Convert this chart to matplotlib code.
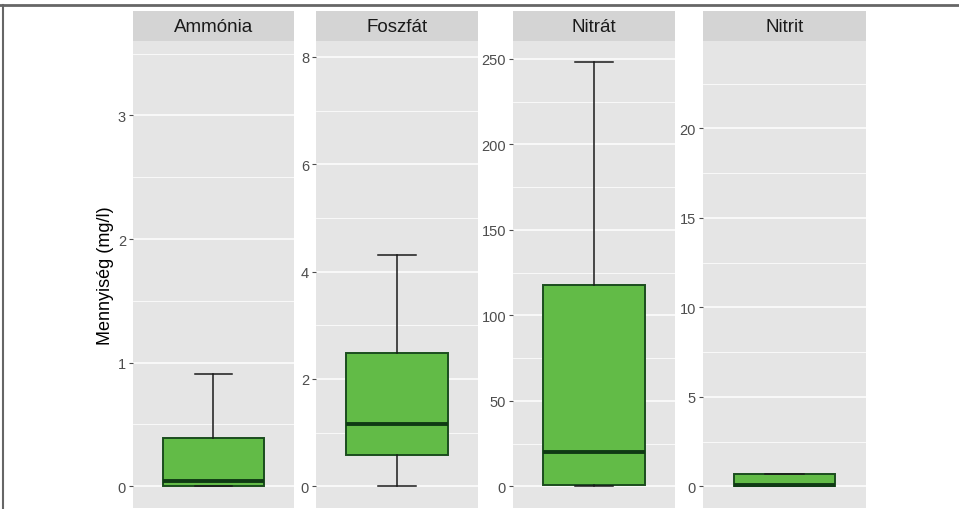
import matplotlib
matplotlib.use("Agg")
import matplotlib.pyplot as plt
from matplotlib.ticker import MultipleLocator
from matplotlib.lines import Line2D

plt.rcParams['font.family'] = ['Liberation Sans', 'DejaVu Sans']

# ---- data ----
categories = ["Ammónia", "Foszfát", "Nitrát", "Nitrit"]
whisker_low = [0.0, 0.0, 0.0, 0.0]
q1 = [0.0, 0.58, 0.8, 0.0]
median = [0.045, 1.16, 20.0, 0.05]
q3 = [0.39, 2.48, 118.0, 0.67]
whisker_high = [0.91, 4.31, 248.0, 0.67]
data_min = [0.0, 0.0, 0.0, 0.0]          # includes hidden outliers
data_max = [3.43, 7.9, 248.0, 23.7]      # includes hidden outliers
major_step = [1, 2, 50, 5]
ylabel = "Mennyiség (mg/l)"

W, H = 959, 510
fig = plt.figure(figsize=(W / 100, H / 100), dpi=100)

panel_x = [(133, 294), (316, 478), (513, 675), (703, 866)]
panel_top, panel_bot = 42, 508.5
strip_top = 12

panel_bg = "#E5E5E5"
strip_bg = "#D4D4D4"
fill = "#62BB47"
edge = "#1B4D1E"
med_col = "#0F3A14"

for i, cat in enumerate(categories):
    x0, x1 = panel_x[i]
    ax = fig.add_axes([x0 / W, (H - panel_bot) / H, (x1 - x0) / W, (panel_bot - panel_top) / H])
    ax.set_facecolor(panel_bg)
    for s in ax.spines.values():
        s.set_visible(False)
    stats = [dict(med=median[i], q1=q1[i], q3=q3[i], whislo=whisker_low[i],
                  whishi=whisker_high[i], fliers=[], label=cat)]
    ax.bxp(stats, positions=[1], widths=0.75, capwidths=0.28, patch_artist=True,
           showfliers=False,
           boxprops=dict(facecolor=fill, edgecolor=edge, linewidth=1.4),
           medianprops=dict(color=med_col, linewidth=2.8, solid_capstyle='butt'),
           whiskerprops=dict(color="#1A1A1A", linewidth=1.1),
           capprops=dict(color="#1A1A1A", linewidth=1.1), zorder=3)
    ax.set_xlim(0.4, 1.6)
    rng = data_max[i] - data_min[i]
    ax.set_ylim(data_min[i] - 0.05 * rng, data_max[i] + 0.05 * rng)
    ax.yaxis.set_major_locator(MultipleLocator(major_step[i]))
    ax.yaxis.set_minor_locator(MultipleLocator(major_step[i] / 2))
    ax.grid(which='major', axis='y', color='white', linewidth=1.1, zorder=0)
    ax.grid(which='minor', axis='y', color='white', linewidth=0.55, zorder=0)
    ax.set_axisbelow(True)
    ax.set_xticks([])
    ax.tick_params(axis='y', which='major', length=3, width=0.8, color='#4D4D4D',
                   labelcolor='#4D4D4D', labelsize=10.5, pad=2)
    ax.tick_params(axis='y', which='minor', length=0)
    # strip
    sax = fig.add_axes([x0 / W, (H - panel_top) / H, (x1 - x0) / W, (panel_top - strip_top) / H])
    sax.set_facecolor(strip_bg)
    for s in sax.spines.values():
        s.set_visible(False)
    sax.set_xticks([]); sax.set_yticks([])
    sax.text(0.5, 0.47, cat, ha='center', va='center', fontsize=13.5, color='#1A1A1A',
             transform=sax.transAxes)
    if i == 0:
        ax.set_ylabel(ylabel, fontsize=13, color='black', labelpad=3)

# outer frame lines (top and left)
fig.add_artist(Line2D([0, 1], [1 - 5.5 / H, 1 - 5.5 / H], transform=fig.transFigure,
                      color='#666666', linewidth=2))
fig.add_artist(Line2D([2.5 / W, 2.5 / W], [0, 1 - 5.5 / H], transform=fig.transFigure,
                      color='#666666', linewidth=1.5))

fig.savefig("out.png", dpi=100, facecolor='white')
